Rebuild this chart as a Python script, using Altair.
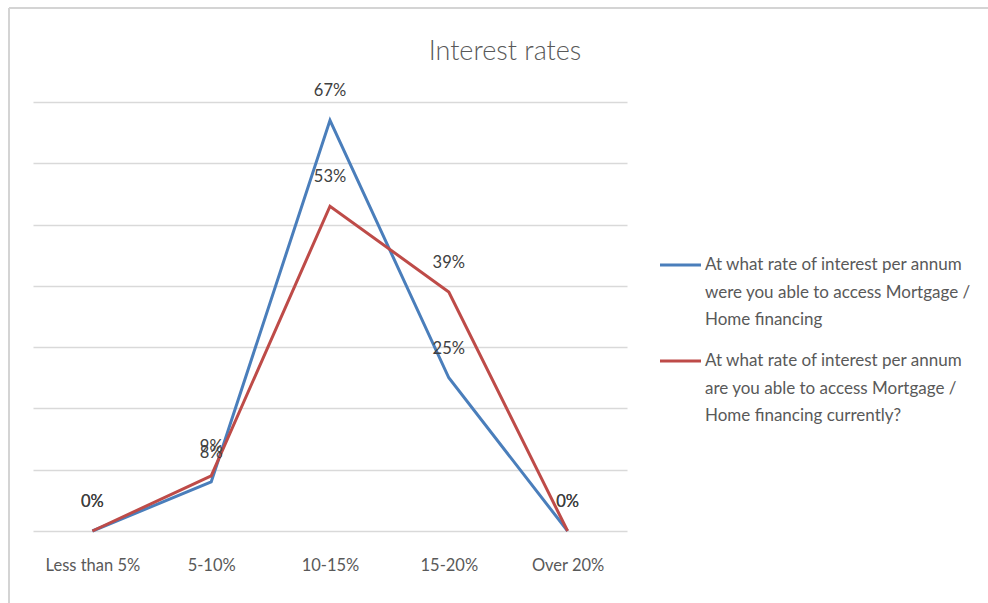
import altair as alt
import pandas as pd

categories = ["Less than 5%", "5-10%", "10-15%", "15-20%", "Over 20%"]
series_names = [
    "At what rate of interest per annum were you able to access Mortgage / Home financing",
    "At what rate of interest per annum are you able to access Mortgage / Home financing currently?",
]
legend_lines = [
    ["At what rate of interest per annum", "were you able to access Mortgage /", "Home financing"],
    ["At what rate of interest per annum", "are you able to access Mortgage /", "Home financing currently?"],
]
blue_values = [0, 8, 67, 25, 0]
red_values = [0, 9, 53, 39, 0]
colors = ["#4A7EBB", "#BE4B48"]
title_text = "Interest rates"

rows = []
for s, vals in zip(series_names, [blue_values, red_values]):
    for c, v in zip(categories, vals):
        rows.append({"category": c, "series": s, "value": v, "label": f"{v}%"})
df = pd.DataFrame(rows)

FONT = "Lato"
GREY = "#595959"

x_enc = alt.X("category:N", sort=categories,
              scale=alt.Scale(type="point", padding=0.5),
              axis=alt.Axis(title=None, ticks=False, domain=False, grid=False,
                            labelAngle=0, labelFontSize=16.5, labelColor=GREY,
                            labelFont=FONT, labelPadding=26))
y_enc = alt.Y("value:Q", scale=alt.Scale(domain=[0, 70], nice=False),
              axis=alt.Axis(title=None, values=list(range(0, 71, 10)), labels=False,
                            ticks=False, domain=False, grid=True,
                            gridColor="#D9D9D9", gridWidth=1.3))
color_enc = alt.Color("series:N", scale=alt.Scale(domain=series_names, range=colors), legend=None)

base = alt.Chart(df)
lines = base.mark_line(strokeWidth=3).encode(x=x_enc, y=y_enc, color=color_enc,
                                               detail="series:N")
labels = base.mark_text(dy=-29, fontSize=16.5, font=FONT, color="#404040").encode(
    x=alt.X("category:N", sort=categories), y="value:Q", text="label:N")

# manual legend
leg_items = []
for i, (s, c, ll) in enumerate(zip(series_names, colors, legend_lines)):
    y0 = 163 + i * 96
    sym = alt.Chart(pd.DataFrame({"s": [s]})).mark_rule(color=c, strokeWidth=3).encode(
        x=alt.value(627), x2=alt.value(668), y=alt.value(y0))
    txt = alt.Chart(pd.DataFrame({"s": [s]})).mark_text(
        align="left", baseline="middle", fontSize=17, font=FONT, color=GREY,
        lineHeight=27.5).encode(x=alt.value(672), y=alt.value(y0), text=alt.value(ll))
    leg_items += [sym, txt]

title = alt.Chart(pd.DataFrame({"t": [title_text]})).mark_text(
    fontSize=27, font=FONT, color=GREY, fontWeight=300).encode(
    x=alt.value(472), y=alt.value(-50), text="t:N")

frame_top = alt.Chart(pd.DataFrame({"a": [0]})).mark_rule(color="#D4D4D4", strokeWidth=2).encode(
    x=alt.value(-24), x2=alt.value(960), y=alt.value(-94))
frame_left = alt.Chart(pd.DataFrame({"a": [0]})).mark_rule(color="#D4D4D4", strokeWidth=2).encode(
    x=alt.value(-24), y=alt.value(-94), y2=alt.value(501))

chart = alt.layer(lines, labels, title, frame_top, frame_left, *leg_items).properties(
    width=594, height=429,
    autosize=alt.AutoSizeParams(type="none"),
    padding={"left": 33, "top": 102, "right": 361, "bottom": 72},
    background="white",
).configure_view(stroke=None)

chart.save("out.html", embed_options={"renderer": "svg", "actions": False})
